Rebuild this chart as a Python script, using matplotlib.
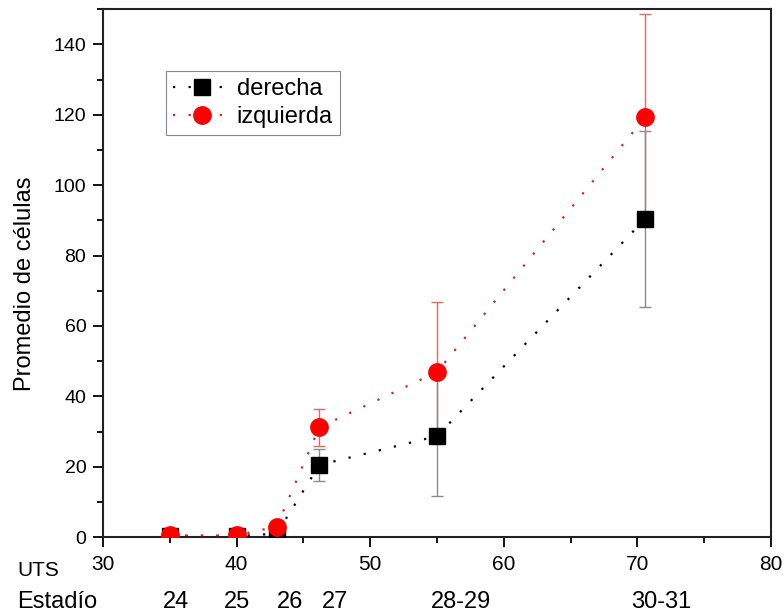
import matplotlib
matplotlib.use("Agg")
import matplotlib.pyplot as plt
from matplotlib.ticker import MultipleLocator
import matplotlib.transforms as mtransforms

plt.rcParams['font.family'] = ['Liberation Sans', 'DejaVu Sans']

# Data
uts = [35, 40, 43, 46.2, 55, 70.6]
derecha = [0.3, 0.3, 1.0, 20.5, 28.7, 90.5]
derecha_err = [0.3, 0.3, 1.0, 4.6, 17.1, 25.0]
izquierda = [0.5, 0.5, 3.0, 31.2, 46.9, 119.4]
izquierda_err = [0.4, 0.4, 1.5, 5.2, 19.8, 29.3]

estadio_labels = ["24", "25", "26", "27", "28-29", "30-31"]
estadio_pos = [35.5, 40.0, 44.0, 47.4, 56.8, 71.8]

fig = plt.figure(figsize=(7.83, 6.16), dpi=100)
ax = fig.add_axes([0.1315, 0.128, 0.8532, 0.857])

dot = (0, (1, 6))

# error bars
ax.errorbar(uts, izquierda, yerr=izquierda_err, fmt='none', ecolor='#e06a6a',
            elinewidth=1.0, capsize=4.5, capthick=1.0, zorder=2)
ax.errorbar(uts, derecha, yerr=derecha_err, fmt='none', ecolor='#8a8a8a',
            elinewidth=1.0, capsize=4.5, capthick=1.0, zorder=2.1)

# lines + markers
l1, = ax.plot(uts, derecha, linestyle=dot, color='black', linewidth=1.6,
              marker='s', markersize=11, markerfacecolor='black',
              markeredgecolor='black', label='derecha', zorder=3)
l2, = ax.plot(uts, izquierda, linestyle=dot, color='#dd2020', linewidth=1.6,
              marker='o', markersize=12.5, markerfacecolor='#ff0000',
              markeredgecolor='#ff0000', label='izquierda', zorder=3.1)

ax.set_xlim(30, 80)
ax.set_ylim(0, 150)
ax.xaxis.set_major_locator(MultipleLocator(10))
ax.xaxis.set_minor_locator(MultipleLocator(5))
ax.yaxis.set_major_locator(MultipleLocator(20))
ax.yaxis.set_minor_locator(MultipleLocator(10))
ax.tick_params(which='both', direction='out', top=False, right=False, width=1.3)
ax.tick_params(axis='y', which='major', labelsize=14, pad=5)
ax.tick_params(axis='x', which='major', labelsize=15, pad=6)
ax.tick_params(which='major', length=7)
ax.tick_params(which='minor', length=4)
for s in ax.spines.values():
    s.set_linewidth(1.5)
    s.set_color('#222222')

ax.set_ylabel('Promedio de células', fontsize=17)
ax.yaxis.set_label_coords(-0.1, 0.48)

leg = ax.legend(handles=[l1, l2], loc='upper left', bbox_to_anchor=(0.094, 0.883),
                borderaxespad=0, fancybox=False, edgecolor='#888888',
                fontsize=17, handlelength=2.5, handletextpad=0.2,
                labelspacing=0.25, borderpad=0.3, framealpha=1)
leg.get_frame().set_linewidth(0.8)

# Bottom labels
fig.text(17 / 783, 1 - 571 / 616, 'UTS', fontsize=15, va='center', ha='left')
fig.text(17 / 783, 1 - 602 / 616, 'Estadío', fontsize=17, va='center', ha='left')
trans = mtransforms.blended_transform_factory(ax.transData, fig.transFigure)
for lab, xp in zip(estadio_labels, estadio_pos):
    ax.text(xp, 1 - 602 / 616, lab, transform=trans, fontsize=17,
            ha='center', va='center', clip_on=False)

fig.savefig('out.png', dpi=100)
